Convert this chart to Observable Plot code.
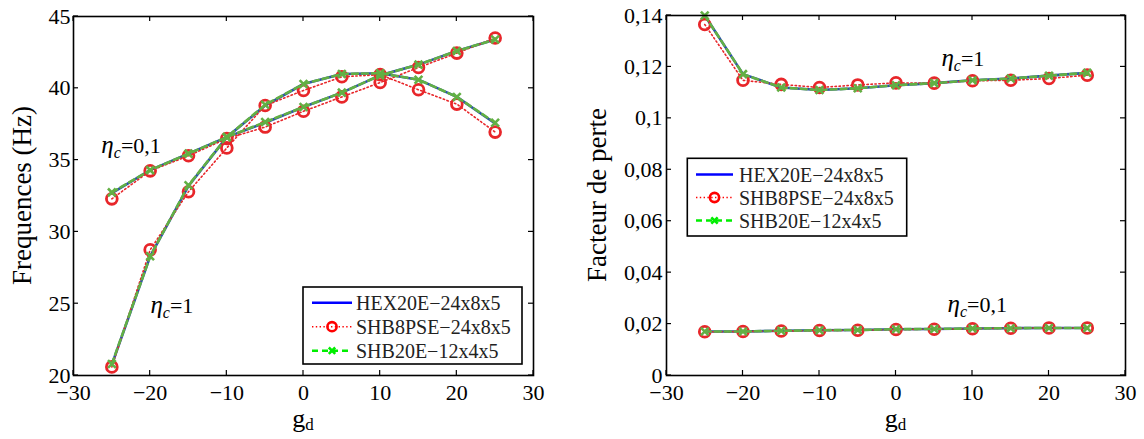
<!DOCTYPE html>
<html><head><meta charset="utf-8">
<script src="https://cdn.jsdelivr.net/npm/d3@7"></script>
<script src="https://cdn.jsdelivr.net/npm/@observablehq/plot@0.6"></script>
<style>
body{margin:0;background:#fff;}
#wrap{position:relative;width:1144px;height:439px;font-family:"Liberation Serif","Times New Roman",serif;background:#fff;}
.panel{position:absolute;top:0;width:572px;height:439px;}
</style></head>
<body><div id="wrap"><div class="panel" id="p1" style="left:0"></div><div class="panel" id="p2" style="left:572px"></div></div>
<script>
// ---- data ----
const gd = [-25,-20,-15,-10,-5,0,5,10,15,20,25];
const xTicks = [-30,-20,-10,0,10,20,30];
const freqTicks = [20,25,30,35,40,45];
const lossTicks = [0,0.02,0.04,0.06,0.08,0.1,0.12,0.14];
const models = ["HEX20E\u221224x8x5","SHB8PSE\u221224x8x5","SHB20E\u221212x4x5"];

// Frequencies (Hz)
const freqEta01_HEX   = [32.7,34.3,35.45,36.6,37.6,38.7,39.7,40.9,41.65,42.6,43.4];
const freqEta01_SHB8  = [32.3,34.25,35.3,36.5,37.3,38.4,39.4,40.4,41.45,42.45,43.5];
const freqEta01_SHB20 = [32.75,34.3,35.45,36.6,37.65,38.7,39.7,40.9,41.65,42.6,43.4];
const freqEta1_HEX    = [20.75,28.3,33.2,36.6,38.8,40.3,41.0,41.05,40.6,39.4,37.55];
const freqEta1_SHB8   = [20.6,28.75,32.8,35.85,38.8,39.85,40.8,40.95,39.9,38.9,36.95];
const freqEta1_SHB20  = [20.8,28.3,33.25,36.6,38.85,40.3,41.0,41.05,40.6,39.4,37.6];

// Loss factor
const lossEta1_HEX    = [0.140,0.1172,0.1120,0.1110,0.1117,0.1129,0.1137,0.1148,0.1155,0.1166,0.1177];
const lossEta1_SHB8   = [0.1365,0.1148,0.1132,0.1120,0.1130,0.1138,0.1137,0.1146,0.1148,0.1155,0.1168];
const lossEta1_SHB20  = [0.140,0.1172,0.1120,0.1110,0.1117,0.1129,0.1137,0.1148,0.1155,0.1166,0.1177];
const lossEta01_HEX   = [0.0171,0.0171,0.0174,0.0176,0.0177,0.0180,0.0181,0.0183,0.0184,0.0185,0.0185];
const lossEta01_SHB8  = [0.0170,0.0171,0.0173,0.0175,0.0176,0.0179,0.0180,0.0182,0.0184,0.0185,0.0185];
const lossEta01_SHB20 = [0.0171,0.0171,0.0174,0.0176,0.0177,0.0180,0.0181,0.0183,0.0184,0.0185,0.0185];

// annotations (data coordinates)
const freqNotes = [{x:-26.3, y:35.45, label:"0,1"}, {x:-19.9, y:24.35, label:"1"}];
const lossNotes = [{x:6.0, y:0.120, label:"1"}, {x:6.8, y:0.0245, label:"0,1"}];

// ---- helpers ----
const fmtComma = d => String(d).replace(".", ",");
function rows(vals, eta) { return gd.map((g, i) => ({gd: g, v: vals[i], eta})); }

const curveBlue = "#2a4eae", curveRed = "#e8262a", curveGreen = "#62b044";

function seriesMarks(hex, shb8, shb20) {
  return [
    Plot.line(hex, {x: "gd", y: "v", z: "eta", stroke: curveBlue, strokeWidth: 2.6}),
    Plot.line(shb8, {x: "gd", y: "v", z: "eta", stroke: curveRed, strokeWidth: 1.6, strokeDasharray: "1.4,2.6"}),
    Plot.dot(shb8, {x: "gd", y: "v", r: 5.4, stroke: curveRed, strokeWidth: 2.8, fill: "none"}),
    Plot.line(shb20, {x: "gd", y: "v", z: "eta", stroke: curveGreen, strokeWidth: 2.6, strokeDasharray: "6,4"}),
    Plot.dot(shb20, {x: "gd", y: "v", symbol: "times", r: 3.6, stroke: curveGreen, strokeWidth: 2.6})
  ];
}

function axesMarks(yTicks, yFmt, yPad) {
  return [
    Plot.axisX({anchor: "bottom", ticks: xTicks, tickSize: 0, tickPadding: 9, label: null, fontSize: 22}),
    Plot.axisY({anchor: "left", ticks: yTicks, tickSize: 0, tickPadding: yPad, tickFormat: yFmt, label: null, fontSize: 22}),
    Plot.frame({stroke: "black", strokeWidth: 1.6})
  ];
}

// inward MATLAB-style ticks on all four sides
function addTicks(svg, yTicks) {
  const sx = svg.scale("x"), sy = svg.scale("y");
  const [x0, x1] = sx.range, [yb, yt] = sy.range;
  const g = d3.select(svg).append("g").attr("stroke", "black").attr("stroke-width", 1.2);
  for (const t of xTicks) {
    const x = sx.apply(t);
    g.append("line").attr("x1", x).attr("x2", x).attr("y1", yb).attr("y2", yb - 5);
    g.append("line").attr("x1", x).attr("x2", x).attr("y1", yt).attr("y2", yt + 5);
  }
  for (const t of yTicks) {
    const y = sy.apply(t);
    g.append("line").attr("y1", y).attr("y2", y).attr("x1", x0).attr("x2", x0 + 5);
    g.append("line").attr("y1", y).attr("y2", y).attr("x1", x1).attr("x2", x1 - 5);
  }
}

function addNotes(svg, notes) {
  const sx = svg.scale("x"), sy = svg.scale("y");
  const s = d3.select(svg);
  for (const a of notes) {
    const t = s.append("text").attr("x", sx.apply(a.x)).attr("y", sy.apply(a.y)).attr("text-anchor", "start")
      .attr("font-family", "Liberation Serif").attr("font-size", 22).attr("fill", "black");
    t.append("tspan").attr("font-style", "italic").attr("font-size", 25).text("\u03b7");
    t.append("tspan").attr("font-style", "italic").attr("font-size", 16).attr("dy", 5).text("c");
    t.append("tspan").attr("dy", -5).text("=" + a.label);
  }
}

function addAxisLabels(svg, ylabel, yx) {
  const sx = svg.scale("x"), sy = svg.scale("y");
  const s = d3.select(svg);
  const t = s.append("text").attr("x", sx.apply(0)).attr("y", 427)
    .attr("text-anchor", "middle").attr("font-family", "Liberation Serif").attr("fill", "black").attr("font-size", 26);
  t.append("tspan").text("g");
  t.append("tspan").attr("font-size", 17).attr("dy", 3).text("d");
  const yc = (sy.range[0] + sy.range[1]) / 2;
  s.append("text").attr("transform", `translate(${yx},${yc}) rotate(-90)`).attr("text-anchor", "middle")
    .attr("font-family", "Liberation Serif").attr("fill", "black").attr("font-size", 27).text(ylabel);
}

function addLegend(svg, box, rowsY, x0, x1, tx) {
  const s = d3.select(svg).append("g").attr("font-family", "Liberation Serif").attr("font-size", 20).attr("text-anchor", "start");
  s.append("rect").attr("x", box[0]).attr("y", box[1]).attr("width", box[2]).attr("height", box[3])
    .attr("fill", "white").attr("stroke", "black").attr("stroke-width", 1.6);
  const xm = (x0 + x1) / 2;
  s.append("line").attr("x1", x0).attr("x2", x1).attr("y1", rowsY[0]).attr("y2", rowsY[0]).attr("stroke", "#0000ff").attr("stroke-width", 2.6);
  s.append("line").attr("x1", x0).attr("x2", x1).attr("y1", rowsY[1]).attr("y2", rowsY[1]).attr("stroke", "#ff0000").attr("stroke-width", 1.6).attr("stroke-dasharray", "1.4,2.4");
  s.append("circle").attr("cx", xm).attr("cy", rowsY[1]).attr("r", 4.6).attr("fill", "none").attr("stroke", "#ff0000").attr("stroke-width", 2.6);
  s.append("line").attr("x1", x0).attr("x2", x1).attr("y1", rowsY[2]).attr("y2", rowsY[2]).attr("stroke", "#00ee00").attr("stroke-width", 2.6).attr("stroke-dasharray", "6,4");
  const d = 3.2;
  s.append("path").attr("d", `M${xm-d},${rowsY[2]-d}L${xm+d},${rowsY[2]+d}M${xm-d},${rowsY[2]+d}L${xm+d},${rowsY[2]-d}`).attr("stroke", "#00ee00").attr("stroke-width", 2.6);
  models.forEach((m, i) => {
    s.append("text").attr("x", tx).attr("y", rowsY[i] + 7).attr("fill", "#222").text(m);
  });
}

const baseStyle = {fontFamily: "Liberation Serif", fontSize: "22px", background: "white", color: "black", overflow: "visible"};

// ---- left panel: frequencies ----
const f01 = [rows(freqEta01_HEX, "0.1"), rows(freqEta1_HEX, "1")].flat();
const f8  = [rows(freqEta01_SHB8, "0.1"), rows(freqEta1_SHB8, "1")].flat();
const f20 = [rows(freqEta01_SHB20, "0.1"), rows(freqEta1_SHB20, "1")].flat();

const left = Plot.plot({
  width: 572, height: 439,
  marginLeft: 73, marginRight: 39, marginTop: 16, marginBottom: 64,
  x: {domain: [-30, 30]},
  y: {domain: [20, 45]},
  style: baseStyle,
  marks: [...seriesMarks(f01, f8, f20), ...axesMarks(freqTicks, d => String(d), 3)]
});
document.getElementById("p1").appendChild(left);
addTicks(left, freqTicks);
addNotes(left, freqNotes);
addAxisLabels(left, "Frequences (Hz)", 31);
addLegend(left, [303, 287, 219, 77], [302.7, 326.7, 350.7], 312, 352, 356);

// ---- right panel: loss factor ----
const l01 = [rows(lossEta01_HEX, "0.1"), rows(lossEta1_HEX, "1")].flat();
const l8  = [rows(lossEta01_SHB8, "0.1"), rows(lossEta1_SHB8, "1")].flat();
const l20 = [rows(lossEta01_SHB20, "0.1"), rows(lossEta1_SHB20, "1")].flat();

const right = Plot.plot({
  width: 572, height: 439,
  marginLeft: 94, marginRight: 19, marginTop: 15, marginBottom: 64,
  x: {domain: [-30, 30]},
  y: {domain: [0, 0.14]},
  style: baseStyle,
  marks: [...seriesMarks(l01, l8, l20), ...axesMarks(lossTicks, fmtComma, 4)]
});
document.getElementById("p2").appendChild(right);
addTicks(right, lossTicks);
addNotes(right, lossNotes);
addAxisLabels(right, "Facteur de perte", 34);
addLegend(right, [115.3, 158.3, 219.4, 77.7], [174.5, 197.5, 220.5], 124, 161, 167);
</script>
</body></html>
